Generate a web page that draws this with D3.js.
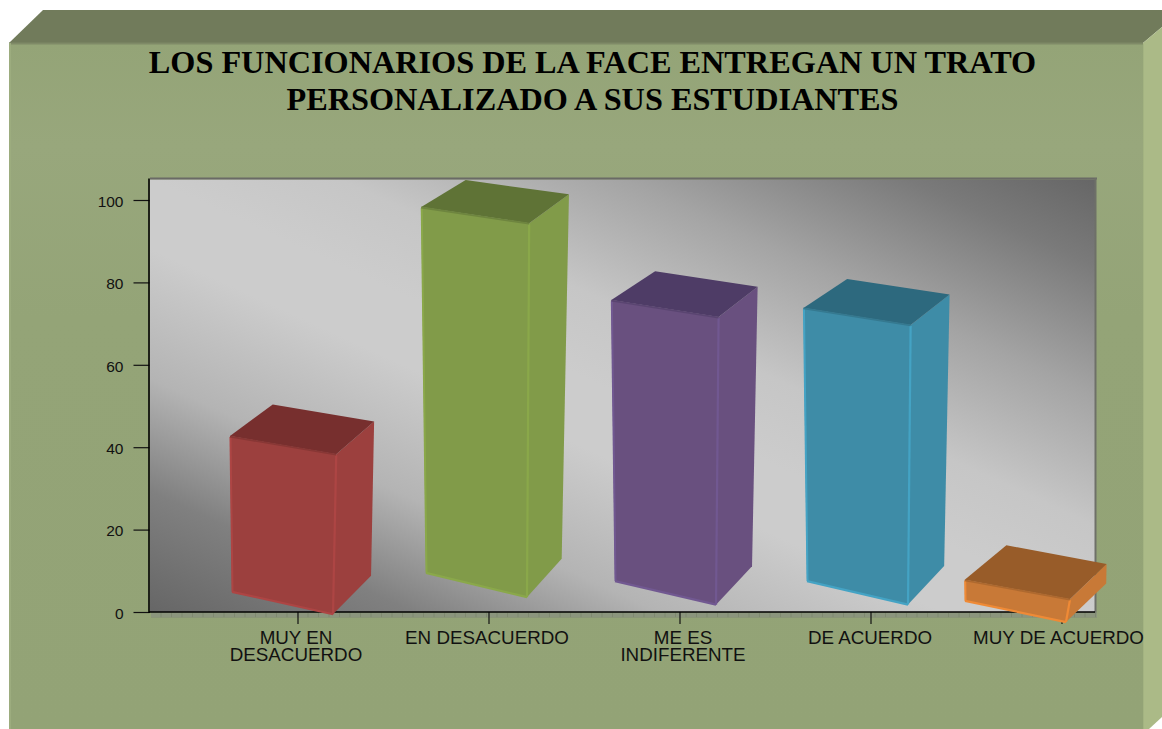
<!DOCTYPE html>
<html><head><meta charset="utf-8">
<script src="https://cdn.jsdelivr.net/npm/d3@7"></script>
<style>html,body{margin:0;padding:0;background:#fff;overflow:hidden}svg{display:block}</style>
</head><body><div id="chart"></div>
<script>
const titleLines = ["LOS FUNCIONARIOS DE LA FACE ENTREGAN UN TRATO", "PERSONALIZADO A SUS ESTUDIANTES"];
const categories = ["MUY EN DESACUERDO", "EN DESACUERDO", "ME ES INDIFERENTE", "DE ACUERDO", "MUY DE ACUERDO"];
const categoryLines = [["MUY EN", "DESACUERDO"], ["EN DESACUERDO"], ["ME ES", "INDIFERENTE"], ["DE ACUERDO"], ["MUY DE ACUERDO"]];
const barTops = [42.7, 98.3, 75.7, 73.8, 7.8];
const barFloors = [4.9, 9.5, 7.5, 7.5, 2.7];
const yTicks = [0, 20, 40, 60, 80, 100];
const faceColors = ["#9c403e", "#819b49", "#69507f"+"", "#3e8ca7", "#c87937"];
const capColors = ["#772f2e", "#5f7336", "#4e3c66", "#2d697e", "#985c29"];
const edgeColors = ["#ad4544", "#8aa84a", "#715891", "#44a3c4", "#ef8a36"];

const W = 1162, H = 729;
const svg = d3.select("#chart").append("svg").attr("width", W).attr("height", H);
const defs = svg.append("defs");

const plot = {l: 150, r: 1095, t: 179.4, b: 612};
const x = d3.scaleBand().domain(categories).range([202.5, 1157.5]);
const y = d3.scaleLinear().domain([0, 105]).range([plot.b, plot.t]);

// backdrop
const front = defs.append("linearGradient").attr("id", "front").attr("x1", 0).attr("y1", 0).attr("x2", 0).attr("y2", 1);
front.append("stop").attr("offset", 0).attr("stop-color", "#94a477");
front.append("stop").attr("offset", 0.15).attr("stop-color", "#98a77c");
front.append("stop").attr("offset", 0.4).attr("stop-color", "#94a477");
front.append("stop").attr("offset", 1).attr("stop-color", "#93a376");

const poly = (pts) => "M" + pts.map(p => p.join(",")).join("L") + "Z";
svg.append("path").attr("d", poly([[9, 43], [43, 10], [1162, 10], [1162, 27], [1143, 43]])).attr("fill", "#717b5b");
svg.append("path").attr("d", poly([[1143, 43], [1162, 27], [1162, 717], [1149, 729], [1143, 729]])).attr("fill", "#abba87");
svg.append("rect").attr("x", 9).attr("y", 43).attr("width", 1134).attr("height", 686).attr("fill", "url(#front)");
svg.append("line").attr("x1", 9).attr("x2", 1143).attr("y1", 43.5).attr("y2", 43.5).attr("stroke", "#7f8a67").attr("stroke-width", 2);
svg.append("line").attr("x1", 10).attr("x2", 10).attr("y1", 43).attr("y2", 729).attr("stroke", "#9cac7e").attr("stroke-width", 2);
svg.append("line").attr("x1", 1143.5).attr("x2", 1143.5).attr("y1", 44).attr("y2", 729).attr("stroke", "#a3b381").attr("stroke-width", 1);

// plot wall
const cx = (plot.l + plot.r) / 2, cy = (plot.t + plot.b) / 2;
const wall = defs.append("linearGradient").attr("id", "wall").attr("gradientUnits", "userSpaceOnUse")
  .attr("x1", cx - 164).attr("y1", cy + 358).attr("x2", cx + 164).attr("y2", cy - 358);
[[0, "#666666"], [0.14, "#808080"], [0.27, "#b4b4b4"], [0.42, "#cccccc"], [0.5, "#cccccc"], [0.6, "#c6c6c6"], [0.75, "#a4a4a4"], [0.9, "#7a7a7a"], [1, "#666666"]]
  .forEach(s => wall.append("stop").attr("offset", s[0]).attr("stop-color", s[1]));
svg.append("rect").attr("x", plot.l).attr("y", plot.t).attr("width", plot.r - plot.l).attr("height", plot.b - plot.t).attr("fill", "url(#wall)");
svg.append("line").attr("x1", plot.l).attr("x2", plot.r + 2).attr("y1", 178.5).attr("y2", 178.5).attr("stroke", "#6a6a66").attr("stroke-width", 2);
svg.append("line").attr("x1", plot.r + 0.5).attr("x2", plot.r + 0.5).attr("y1", 178).attr("y2", 617).attr("stroke", "#6e7068").attr("stroke-width", 2);
svg.append("line").attr("x1", plot.l + 1).attr("x2", plot.r + 2).attr("y1", 615).attr("y2", 615).attr("stroke", "#7f8970").attr("stroke-width", 5);
svg.append("line").attr("x1", plot.l + 1).attr("x2", plot.r + 2).attr("y1", 615).attr("y2", 615).attr("stroke", "#8b957d").attr("stroke-width", 5).attr("stroke-dasharray", "9.5 1");

// axes
const yAxis = d3.axisLeft(y).tickValues(yTicks).tickSize(16).tickPadding(10).tickFormat(d3.format("d"));
const gy = svg.append("g").attr("transform", `translate(${plot.l - 0.5},0)`).call(yAxis);
gy.select(".domain").remove();
gy.selectAll("line").attr("stroke", "#111").attr("stroke-width", 1.2);
gy.selectAll("text").attr("font-family", "'Liberation Sans',Arial,sans-serif").attr("font-size", 15.5).attr("fill", "#111").attr("dy", "0.4em");

const xAxis = d3.axisBottom(x).tickSize(12).tickFormat("");
const gx = svg.append("g").attr("transform", `translate(0,${plot.b})`).call(xAxis);
gx.select(".domain").remove();
gx.selectAll("line").attr("stroke", "#111").attr("stroke-width", 1.2);

svg.append("line").attr("x1", plot.l - 1).attr("x2", plot.l - 1).attr("y1", plot.t - 1).attr("y2", plot.b + 1).attr("stroke", "#000").attr("stroke-width", 1.6);
svg.append("line").attr("x1", plot.l - 1).attr("x2", plot.r).attr("y1", plot.b).attr("y2", plot.b).attr("stroke", "#000").attr("stroke-width", 1.6);

// category labels
const labelNudge = [-2, -2, 3, -1, -3.5];
const labels = svg.append("g").selectAll("text").data(categories).join("text")
  .attr("text-anchor", "middle")
  .attr("font-family", "'Liberation Sans',Arial,sans-serif").attr("font-size", 18.8).attr("fill", "#111");
labels.each(function (d, i) {
  d3.select(this).selectAll("tspan").data(categoryLines[i]).join("tspan")
    .attr("x", x(d) + x.bandwidth() / 2 + labelNudge[i])
    .attr("y", (l, j) => 644 + j * 17)
    .text(l => l);
});

// bar boxes: shear grows with the height of the bar, as in a tilted camera
const boxNudge = [-1.5, 1.5, -0.5, 0.5, -32.5];
const add = (p, dx, dy) => [p[0] + dx, p[1] + dy];
function box(i) {
  const d = categories[i];
  const tick = x(d) + x.bandwidth() / 2;
  const yTop = y(barTops[i]), yBase = y(barFloors[i]);
  const h = yBase - yTop;
  const x0 = tick - 64.5 + boxNudge[i];
  const BL = [x0, yBase];
  const BR = [x0 + 101, yBase + 21 + 0.009 * h];
  const TL = [x0 - 0.013 * h, yTop];
  const TR = add(TL, 105 + 0.008 * h, 19.5 - 0.009 * h);
  const BTL = add(TL, 41.5 + 0.008 * h, -(35 - 0.022 * h));
  const BTR = add(BTL, 100 + 0.009 * h, 19 - 0.013 * h);
  const RBy = BR[1] - 38.5;
  const RB = [BTR[0] - 0.02 * (RBy - BTR[1]), RBy];
  return {BL, BR, TL, TR, BTL, BTR, RB};
}
const bars = svg.append("g").selectAll("g").data(categories).join("g");
bars.each(function (d, i) {
  const b = box(i), g = d3.select(this);
  g.append("path").attr("d", poly([b.TR, b.BTR, b.RB, b.BR])).attr("fill", faceColors[i]);
  g.append("path").attr("d", poly([b.TL, b.TR, b.BR, b.BL])).attr("fill", faceColors[i]);
  g.append("path").attr("d", poly([b.TL, b.BTL, b.BTR, b.TR])).attr("fill", capColors[i]);
  const line = (p, q, c, w) => g.append("line").attr("x1", p[0]).attr("y1", p[1]).attr("x2", q[0]).attr("y2", q[1]).attr("stroke", c).attr("stroke-width", w);
  line(add(b.TL, 0.5, 1), add(b.BL, 0.5, 0), edgeColors[i], 2);
  line(add(b.TR, 0, 1), b.BR, edgeColors[i], 2.2);
  line(b.BL, b.BR, edgeColors[i], 2.2);
  line(add(b.TL, 0, 0.5), add(b.TR, 0, 0.5), d3.interpolateRgb(capColors[i], faceColors[i])(0.45), 1.8);
});

// title
svg.append("g").selectAll("text").data(titleLines).join("text")
  .attr("x", 592.5).attr("y", (d, i) => 73 + i * 36.5)
  .attr("text-anchor", "middle")
  .attr("font-family", "'Liberation Serif','Times New Roman',serif").attr("font-weight", "bold")
  .attr("font-size", 32.25).attr("fill", "#000")
  .text(d => d);
</script></body></html>
